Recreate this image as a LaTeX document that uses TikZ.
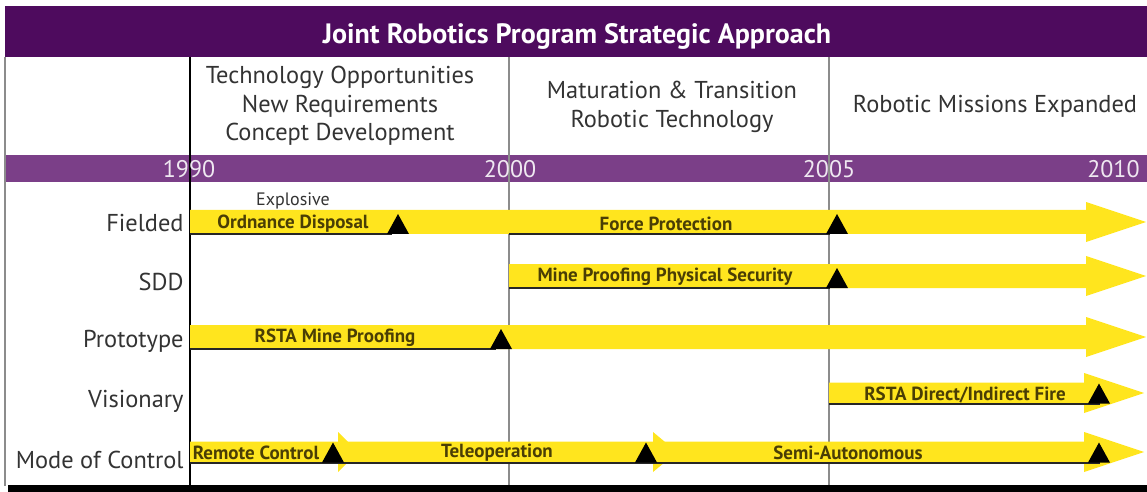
\documentclass[tikz,border=0pt]{standalone}
\usepackage{fontspec}
\setmainfont{PT Sans}
\usetikzlibrary{positioning}
\definecolor{jrpurple}{HTML}{4E0B5E}
\definecolor{jrlilac}{HTML}{7B3F88}
\definecolor{jryellow}{HTML}{FFE51E}
\definecolor{jrtext}{HTML}{333333}
\definecolor{jrolive}{HTML}{4A3E05}
\definecolor{jrgrid}{HTML}{8C8C8C}

\begin{document}
\begin{tikzpicture}[x=0.5pt,y=-0.5pt]
    \tikzset{phase/.style={font=\fontsize{12.2}{14.3}\selectfont,text=jrtext,align=center},
      rowlabel/.style={anchor=east,font=\fontsize{12.2}{14}\selectfont,text=jrtext,inner sep=0pt},
      yearlabel/.style={font=\fontsize{12}{14}\selectfont,text=white!88!jrlilac,inner sep=0pt},
      barlabel/.style={font=\bfseries\fontsize{9.5}{11}\selectfont,text=jrolive,inner sep=0pt,yshift=-1pt},
      ybar/.style={fill=jryellow},
      uline/.style={line width=1pt,black!85},
      milestone/.style={fill=black}}
    \useasboundingbox (0,0) rectangle (1147,492);
    % title and year band
    \fill[jrpurple] (5,6) rectangle (1147,57);
    \node[text=white,font=\bfseries\fontsize{14}{16}\selectfont] (title) at (577,36) {Joint Robotics Program Strategic Approach};
    \fill[jrlilac] (5,155) rectangle (1147,182);
    % grid
    \draw[jrgrid,line width=0.6pt] (5,57) -- (5,486);
    \draw[black,line width=1pt] (190,57) -- (190,486);
    \draw[jrgrid,line width=1pt] (509,57) -- (509,486);
    \draw[jrgrid,line width=1pt] (829,57) -- (829,486);
    \fill[black] (8,485) rectangle (1147,492);
    % phases
    \node[phase] (early) at (340,106) {Technology Opportunities\\New Requirements\\Concept Development};
    \node[phase] (mature) at (672,107) {Maturation \& Transition\\Robotic Technology};
    \node[phase] (expand) at (995,106) {Robotic Missions Expanded};
    % years
    \node[yearlabel] (y1990) at (189,169) {1990};
    \node[yearlabel] (y2000) at (510,169) {2000};
    \node[yearlabel] (y2005) at (829,169) {2005};
    \node[yearlabel,anchor=east] (y2010) at (1140,169) {2010};
    % rows
    \node[rowlabel] (fielded) at (184,223) {Fielded};
    \node[rowlabel] (sdd) at (184,282) {SDD};
    \node[rowlabel] (proto) at (184,341) {Prototype};
    \node[rowlabel] (vision) at (184,401) {Visionary};
    \node[rowlabel] (moc) at (184,460) {Mode of Control};
    % yellow arrows (start/head/tip/centre/half width)
    \foreach \xa/\xh/\xt/\yc/\hw in {190/1086/1146/222/12, 509/1086/1146/276/12, 190/1086/1146/337/12,
        829/1084/1144/393/10.5, 190/338/358/452/10.5, 344/653/677/452/10.5, 660/1084/1144/452/10.5}
      \fill[ybar] (\xa,\yc-\hw) -- (\xh,\yc-\hw) -- (\xh,\yc-20) -- (\xt,\yc) -- (\xh,\yc+20)
        -- (\xh,\yc+\hw) -- (\xa,\yc+\hw) -- cycle;
    % underlines
    \draw[uline] (190,234) -- (392,234);
    \draw[uline] (509,234) -- (830,234);
    \draw[uline] (509,288) -- (830,288);
    \draw[uline] (190,349) -- (496,349);
    \draw[uline] (829,403.5) -- (1100,403.5);
    \draw[uline] (190,462.5) -- (1100,462.5);
    % milestones
    \foreach \xm/\yb in {398/234, 837/234, 837/288, 501/349, 1099/403.5, 333/462.5, 646/462.5, 1099/462.5}
      \fill[milestone] (\xm-11,\yb) -- (\xm,\yb-20) -- (\xm+11,\yb) -- cycle;
    % bar labels
    \node[barlabel] (eod) at (293,222) {Ordnance Disposal};
    \node[barlabel,font=\fontsize{9}{10}\selectfont,text=jrtext,yshift=1pt,above=2.5pt of eod] (explosive) {Explosive};
    \node[barlabel] (force) at (666,222) {Force Protection};
    \node[barlabel] (mpps) at (665,275) {Mine Proofing Physical Security};
    \node[barlabel] (rstamp) at (335,336) {RSTA Mine Proofing};
    \node[barlabel] (rstadf) at (965,393) {RSTA Direct/Indirect Fire};
    \node[barlabel] (remote) at (256,451) {Remote Control};
    \node[barlabel] (teleop) at (497,451) {Teleoperation};
    \node[barlabel] (semi) at (848,451) {Semi-Autonomous};
  \end{tikzpicture}
\end{document}
